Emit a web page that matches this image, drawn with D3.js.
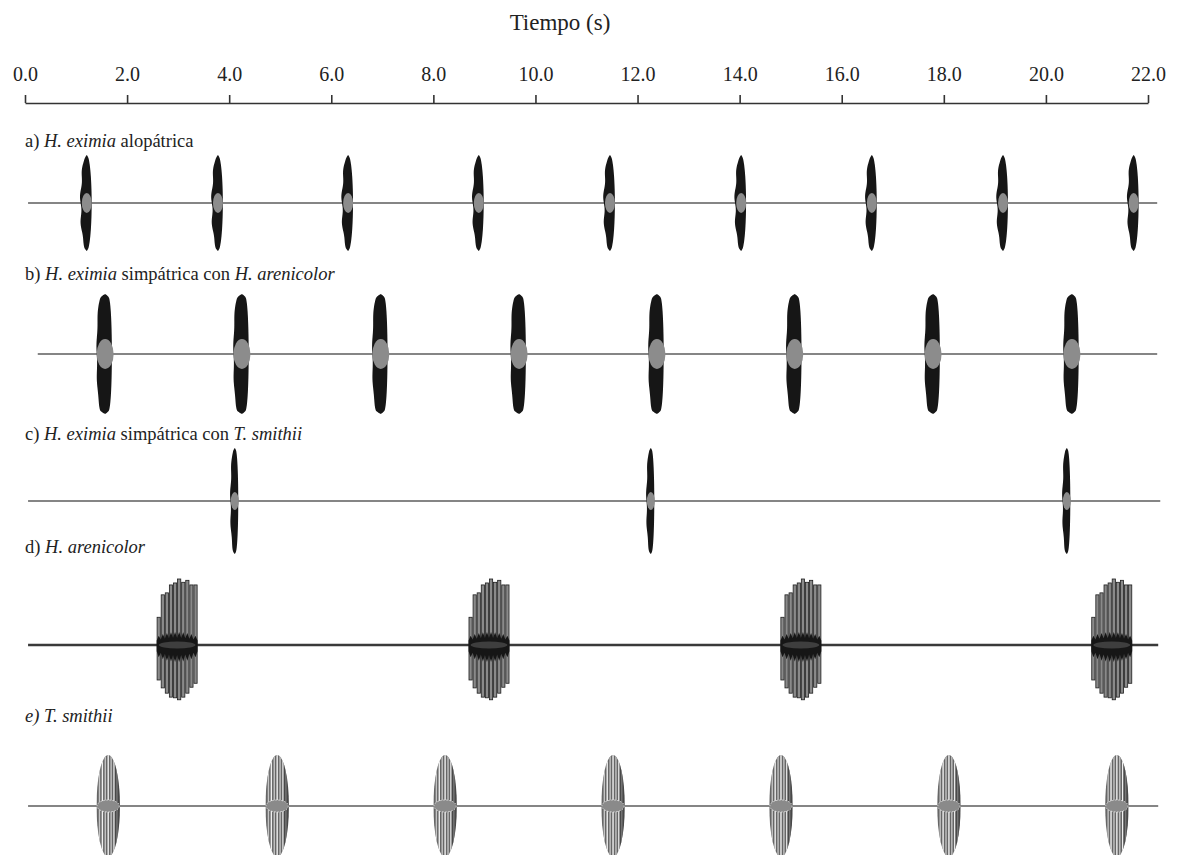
<!DOCTYPE html>
<html><head><meta charset="utf-8">
<script src="https://cdn.jsdelivr.net/npm/d3@7/dist/d3.min.js"></script>
<style>
html,body{margin:0;padding:0;background:#fff;}
svg{display:block;font-family:"Liberation Serif","Times New Roman",serif;}
</style></head>
<body>
<svg id="chart" width="1187" height="855"></svg>
<script>
// ---------- data ----------
const axisTicks = [0,2,4,6,8,10,12,14,16,18,20,22];
const axisTitle = "Tiempo (s)";

// pulse centres (s)
const pulsesA = [1.21,3.78,6.33,8.89,11.46,14.03,16.59,19.16,21.72];
const pulsesB = [1.57,4.25,6.97,9.68,12.38,15.08,17.79,20.51];
const pulsesC = [4.11,12.26,20.41];
const pulsesD = [2.98,9.09,15.20,21.29];
const pulsesE = [1.63,4.94,8.23,11.52,14.81,18.10,21.39];

// pulse durations (s)
const durationA = 0.24, durationB = 0.33, durationC = 0.17, durationD = 0.80, durationE = 0.46;

// relative amplitudes (upper / lower) of the notes inside an H. arenicolor call
const arenicolorUp   = [0.42,0.76,0.79,0.91,0.94,1.00,0.95,0.98,0.91,0.91];
const arenicolorDown = [0.53,0.65,0.73,0.79,0.80,0.83,0.79,0.73,0.64,0.58];
// T. smithii stripe count
const smithiiStripes = 7;

// recording spans (s)
const spanA = [0.06,22.18], spanB = [0.25,22.18], spanC = [0.06,22.24], spanD = [0.06,22.2], spanE = [0.06,22.2];

const panelLabels = [
  [{t:"a) "},{t:"H. eximia",i:true},{t:" alopátrica"}],
  [{t:"b) "},{t:"H. eximia",i:true},{t:" simpátrica con "},{t:"H. arenicolor",i:true}],
  [{t:"c) "},{t:"H. eximia",i:true},{t:" simpátrica con "},{t:"T. smithii",i:true}],
  [{t:"d) "},{t:"H. arenicolor",i:true}],
  [{t:"e) T. smithii",i:true}]
];

// ---------- layout ----------
const svg = d3.select("#chart");
const x = d3.scaleLinear().domain([0,22]).range([25,1148]);
const axisY = 103;

svg.append("text").attr("x",560).attr("y",30).attr("text-anchor","middle")
  .attr("font-size",23).attr("fill","#222").text(axisTitle);

const ax = svg.append("g").attr("transform",`translate(0,${axisY})`)
  .call(d3.axisTop(x).tickValues(axisTicks).tickFormat(d3.format(".1f"))
        .tickSize(8).tickSizeOuter(0).tickPadding(14));
ax.select(".domain").attr("stroke","#333").attr("stroke-width",1.6);
ax.selectAll(".tick line").attr("stroke","#333").attr("stroke-width",1.6);
ax.selectAll(".tick text").attr("font-size",20).attr("fill","#222")
  .attr("font-family","Liberation Serif, serif");

const panels = [
  {base:203, h:48, labelY:147, pulses:pulsesA, dur:durationA, span:spanA, kind:"ex", core:[5,10], ex:0.5, wob:0.12},
  {base:354, h:60, labelY:280, pulses:pulsesB, dur:durationB, span:spanB, kind:"ex", core:[8.5,15], ex:0.25, wob:0.04},
  {base:501, h:53, labelY:440, pulses:pulsesC, dur:durationC, span:spanC, kind:"ex", core:[4,9], ex:0.4, wob:0.1},
  {base:645, h:66, labelY:553, pulses:pulsesD, dur:durationD, span:spanD, kind:"ar"},
  {base:806, h:51, labelY:722, pulses:pulsesE, dur:durationE, span:spanE, kind:"ts"}
];

panelLabels.forEach((parts,i)=>{
  const t = svg.append("text").attr("x",25).attr("y",panels[i].labelY)
    .attr("font-size",18.5).attr("fill","#222");
  parts.forEach(p=>t.append("tspan").attr("font-style",p.i?"italic":"normal").text(p.t));
});

const defs = svg.append("defs");
let clipId = 0;

panels.forEach((p,pi)=>{
  const y = d3.scaleLinear().domain([-1,1]).range([p.base+p.h, p.base-p.h]);
  const g = svg.append("g");
  // baseline
  g.append("line").attr("x1",x(p.span[0])).attr("x2",x(p.span[1]))
    .attr("y1",p.base).attr("y2",p.base)
    .attr("stroke", p.kind==="ar" ? "#3a3a3a" : "#858585")
    .attr("stroke-width", p.kind==="ar" ? 2.4 : 2);

  p.pulses.forEach(t0=>{
    const cx = x(t0);
    const halfW = (x(p.dur)-x(0))/2;
    if(p.kind==="ex"){
      const prof = d3.range(-1,1.0001,0.04);
      const area = d3.area()
        .y(a=>y(a))
        .x0(a=>cx - halfW*Math.pow(Math.max(0,1-a*a),p.ex)*(1+p.wob*Math.sin(a*11)))
        .x1(a=>cx + halfW*0.8*Math.pow(Math.max(0,1-a*a),p.ex))
        .curve(d3.curveBasis);
      g.append("path").datum(prof).attr("d",area).attr("fill","#161616");
      g.append("ellipse").attr("cx",cx).attr("cy",p.base)
        .attr("rx",p.core[0]).attr("ry",p.core[1]).attr("fill","#8c8c8c");
    } else if(p.kind==="ar"){
      const n = arenicolorUp.length;
      const xs = d3.scaleLinear().domain([0,n-1]).range([cx-halfW+2, cx+halfW-2]);
      arenicolorUp.forEach((a,k)=>{
        g.append("rect").attr("x",xs(k)-1.6).attr("width",3.2)
          .attr("y",y(a)).attr("height",y(-arenicolorDown[k])-y(a))
          .attr("fill","#8a8a8a").attr("stroke","#1e1e1e").attr("stroke-width",0.8);
      });
      // dense dark core
      const prof = d3.range(-1,1.0001,0.1);
      const core = d3.area()
        .x(u=>cx+u*halfW)
        .y0(u=>p.base+ (10+ (Math.round(u*10)%2?7:0))*Math.sqrt(1-u*u*0.6))
        .y1(u=>p.base- (7+ (Math.round(u*10)%2?6:0))*Math.sqrt(1-u*u*0.6))
        .curve(d3.curveLinear);
      g.append("path").datum(prof).attr("d",core).attr("fill","#161616");
      g.append("ellipse").attr("cx",cx).attr("cy",p.base).attr("rx",halfW*0.9).attr("ry",3.5)
        .attr("fill","#3e3e3e");
    } else {
      const id = "clip"+(clipId++);
      defs.append("clipPath").attr("id",id).append("ellipse")
        .attr("cx",cx).attr("cy",p.base).attr("rx",halfW).attr("ry",p.h);
      const cg = g.append("g").attr("clip-path",`url(#${id})`);
      cg.append("rect").attr("x",cx-halfW).attr("y",p.base-p.h)
        .attr("width",halfW*2).attr("height",p.h*2).attr("fill","#666");
      const xs = d3.scaleLinear().domain([0,smithiiStripes-1]).range([cx-halfW+3, cx+halfW-3]);
      d3.range(smithiiStripes).forEach(k=>{
        cg.append("line").attr("x1",xs(k)).attr("x2",xs(k))
          .attr("y1",p.base-p.h).attr("y2",p.base+p.h)
          .attr("stroke", k%2 ? "#f0f0f0":"#c4c4c4").attr("stroke-width",1.4);
      });
      cg.append("rect").attr("x",cx+halfW*0.55).attr("y",p.base-p.h)
        .attr("width",halfW*0.45).attr("height",p.h*2).attr("fill","#2a2a2a").attr("opacity",0.5);
      g.append("ellipse").attr("cx",cx).attr("cy",p.base).attr("rx",halfW*0.95).attr("ry",6)
        .attr("fill","#8a8a8a").attr("stroke","#eee").attr("stroke-width",0.8).attr("stroke-dasharray","1.5,1.5");
    }
  });
});
</script>
</body></html>
